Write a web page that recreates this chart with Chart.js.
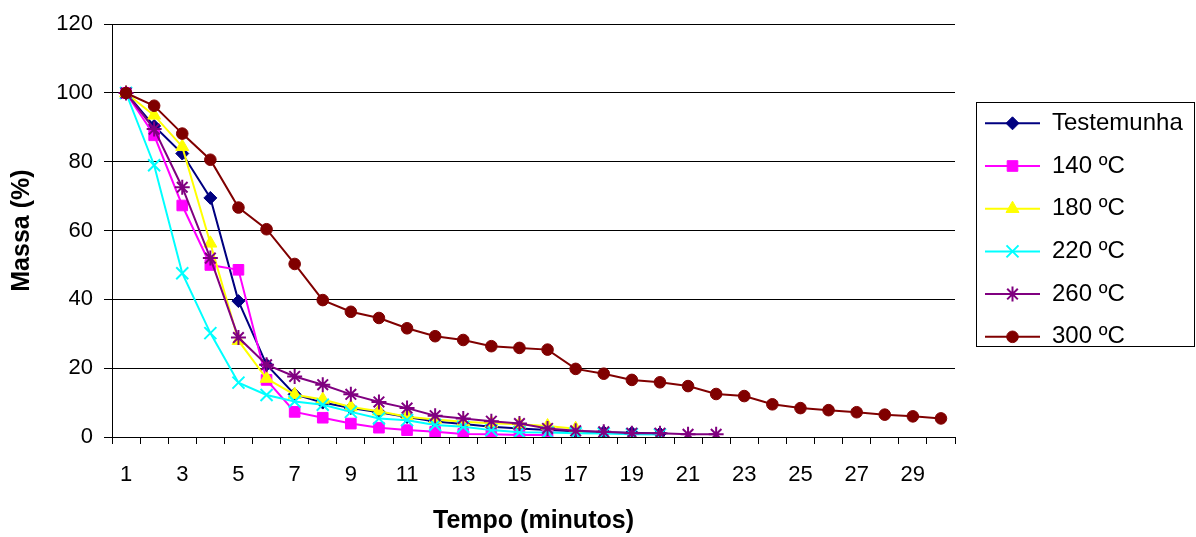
<!DOCTYPE html>
<html>
<head>
<meta charset="utf-8">
<script src="https://cdn.jsdelivr.net/npm/chart.js@4.4.1/dist/chart.umd.min.js"></script>
<style>
html,body{margin:0;padding:0;background:#fff;}
canvas{display:block;}
</style>
</head>
<body>
<canvas id="c" width="1196" height="537"></canvas>
<script>
// ---- data ----
const categories = ['1','2','3','4','5','6','7','8','9','10','11','12','13','14','15','16','17','18','19','20','21','22','23','24','25','26','27','28','29','30'];
const seriesNames = ['Testemunha', '140 ºC', '180 ºC', '220 ºC', '260 ºC', '300 ºC'];
const testemunha = [100, 90.4, 82.4, 69.5, 39.5, 21, 12.4, 10, 8.4, 7.2, 5.8, 4.5, 3.8, 3.0, 2.5, 2.0, 1.7, 1.4, 1.2, 1.0];
const s140 = [100, 87.7, 67.3, 50, 48.6, 16.6, 7.3, 5.6, 3.9, 2.7, 2.0, 1.5, 0.9, 0.8, 0.6, 0.6];
const s180 = [100, 93.5, 84.4, 56.3, 28, 17, 12.3, 10.9, 8.7, 7.5, 5.9, 5.1, 4.4, 4.0, 3.7, 3.2, 2.4];
const s220 = [100, 79, 47.6, 30.2, 15.8, 12.2, 10.3, 9.4, 7.3, 5.4, 4.9, 3.5, 3.0, 2.0, 1.4, 1.3, 1.1, 1.0, 0.8, 0.7];
const s260 = [100, 89.5, 72.6, 52, 28.9, 21, 17.6, 15.2, 12.4, 10.2, 8.4, 6.2, 5.4, 4.6, 3.9, 2.5, 1.8, 1.5, 1.1, 1.1, 0.8, 0.8];
const s300 = [100, 96.3, 88.2, 80.6, 66.7, 60.4, 50.3, 39.8, 36.4, 34.6, 31.6, 29.3, 28.2, 26.4, 25.9, 25.4, 19.8, 18.4, 16.6, 15.9, 14.8, 12.5, 11.9, 9.5, 8.4, 7.8, 7.2, 6.5, 6.0, 5.4];
const yMin = 0, yMax = 120, yStep = 20;
const xTitle = 'Tempo (minutos)';
const yTitle = 'Massa (%)';

// ---- styles ----
const FONT = "'Liberation Sans', Arial, Helvetica, sans-serif";
Chart.defaults.font.family = FONT;
Chart.defaults.color = '#000';

const styles = [
  {color: '#000080', pointStyle: 'rectRot', radius: 6.5, pbw: 1},
  {color: '#FF00FF', pointStyle: 'rect', radius: 7.5, pbw: 1},
  {color: '#FFFF00', pointStyle: 'triangle', radius: 7.5, pbw: 1},
  {color: '#00FFFF', pointStyle: 'crossRot', radius: 8.5, pbw: 2},
  {color: '#800080', pointStyle: 'star', radius: 7.5, pbw: 2},
  {color: '#800000', pointStyle: 'circle', radius: 5.8, pbw: 1}
];
const values = [testemunha, s140, s180, s220, s260, s300];

const datasets = values.map((v, i) => ({
  label: seriesNames[i],
  data: v,
  borderColor: styles[i].color,
  backgroundColor: styles[i].color,
  borderWidth: 2,
  pointStyle: styles[i].pointStyle,
  pointRadius: styles[i].radius,
  pointHoverRadius: styles[i].radius,
  pointBackgroundColor: styles[i].color,
  pointBorderColor: styles[i].color,
  pointBorderWidth: styles[i].pbw,
  tension: 0,
  fill: false,
  order: values.length - i
}));

const legendPlace = {
  id: 'legendPlace',
  afterLayout(chart) {
    const L = chart.legend; if (!L) return;
    const p = L.options.labels.padding;
    const w = L.width, h = L.height;
    L.left = 985 - p; L.right = L.left + w;
    L.top = 111.3 - p; L.bottom = L.top + h;
  },
  afterDraw(chart) {
    const ctx = chart.ctx; const L = chart.legend;
    ctx.save();
    ctx.strokeStyle = '#000'; ctx.lineWidth = 1;
    ctx.strokeRect(976.5, 102.5, 218, 244);
    const bw = L.options.labels.boxWidth;
    L.legendHitBoxes.forEach((hb, i) => {
      const item = L.legendItems[i];
      const ds = chart.data.datasets[item.datasetIndex];
      const y = hb.top + hb.height / 2;
      const x0 = hb.left, x1 = hb.left + bw;
      ctx.strokeStyle = ds.borderColor; ctx.lineWidth = ds.borderWidth;
      ctx.beginPath(); ctx.moveTo(x0, y); ctx.lineTo(x1, y); ctx.stroke();
      ctx.fillStyle = ds.pointBackgroundColor; ctx.strokeStyle = ds.pointBorderColor; ctx.lineWidth = ds.pointBorderWidth;
      Chart.helpers.drawPoint(ctx, {pointStyle: ds.pointStyle, radius: ds.pointRadius, borderWidth: ds.pointBorderWidth, rotation: 0}, (x0 + x1) / 2, y);
    });
    ctx.restore();
  }
};

new Chart(document.getElementById('c'), {
  type: 'line',
  data: {labels: categories, datasets},
  options: {
    responsive: false,
    animation: false,
    devicePixelRatio: 1,
    layout: {padding: {left: 0, right: 241, top: 20, bottom: 0}},
    plugins: {
      tooltip: {enabled: false},
      legend: {
        position: 'chartArea',
        align: 'start',
        labels: {
          font: {size: 24, family: FONT},
          color: '#000',
          boxWidth: 55,
          padding: 18.7,
          sort: (a, b) => a.datasetIndex - b.datasetIndex,
          generateLabels: (chart) => Chart.defaults.plugins.legend.labels.generateLabels(chart).map(it => Object.assign(it, {fillStyle: 'rgba(0,0,0,0)', strokeStyle: 'rgba(0,0,0,0)', lineWidth: 0}))
        }
      }
    },
    scales: {
      x: {
        type: 'category',
        offset: true,
        grid: {offset: true, drawOnChartArea: false, drawTicks: true, tickLength: 7, color: '#000', lineWidth: 1},
        border: {display: true, color: '#000', width: 1},
        ticks: {
          autoSkip: false, maxRotation: 0, minRotation: 0, padding: 18,
          font: {size: 22}, color: '#000',
          callback: function(val, idx) { return idx % 2 === 0 ? this.getLabelForValue(val) : ''; }
        },
        title: {display: true, text: xTitle, font: {size: 25, weight: 'bold'}, color: '#000', padding: {top: 0, bottom: 1}},
        afterFit: (s) => { s.height = 100; }
      },
      y: {
        min: yMin, max: yMax,
        grid: {drawOnChartArea: true, drawTicks: true, tickLength: 8, color: '#000', lineWidth: 1},
        border: {display: true, color: '#000', width: 1},
        ticks: {stepSize: yStep, padding: 11, font: {size: 22}, color: '#000'},
        title: {display: true, text: yTitle, font: {size: 25, weight: 'bold'}, color: '#000', padding: {top: 7, bottom: 0}},
        afterFit: (s) => { s.width = 112; }
      }
    }
  },
  plugins: [legendPlace]
});
</script>
</body>
</html>
